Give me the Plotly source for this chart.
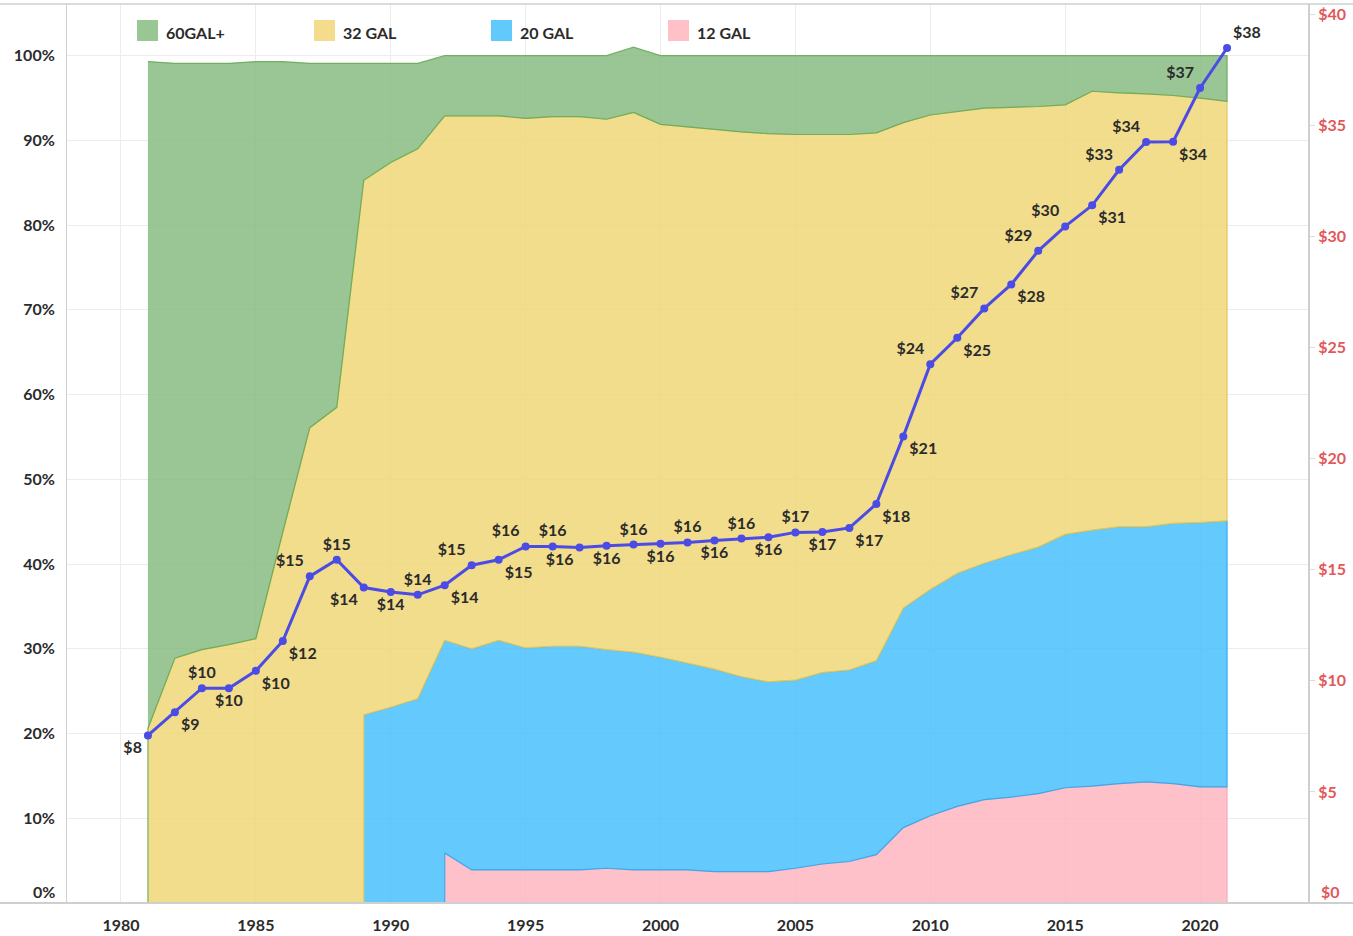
import plotly.graph_objects as go

# ---------------- data ----------------
years = list(range(1981, 2022))

# market share (%) by container size; None = not yet on the market
share_60 = [78.7, 70.2, 69.2, 68.6, 68.1, 55.5, 43.0, 40.6, 13.8, 11.7,
            10.1, 7.1, 7.1, 7.1, 7.4, 7.2, 7.2, 7.5, 7.7, 8.1,
            8.4, 8.7, 9.0, 9.2, 9.3, 9.3, 9.3, 9.1, 7.9, 7.0,
            6.6, 6.2, 6.1, 6.0, 5.8, 4.2, 4.4, 4.5, 4.7, 5.0, 5.4]
share_32 = [20.6, 28.9, 29.9, 30.5, 31.2, 43.8, 56.1, 58.5, 63.1, 64.3,
            64.9, 61.9, 62.9, 61.9, 62.5, 62.5, 62.5, 62.6, 63.7, 62.9,
            63.3, 63.7, 64.3, 64.7, 64.4, 63.5, 63.2, 62.3, 57.3, 56.0,
            54.5, 53.7, 52.8, 52.0, 50.7, 51.8, 51.2, 51.1, 50.5, 50.1, 49.5]
share_20 = [None] * 8 + [22.2, 23.1, 24.1, 25.1, 26.1, 27.1, 26.2, 26.4, 26.4, 25.8,
                         25.7, 25.1, 24.4, 23.9, 23.0, 22.4, 22.2, 22.6, 22.6, 22.9,
                         25.9, 26.7, 27.5, 27.9, 28.6, 29.1, 29.9, 30.2, 30.3, 30.1,
                         30.7, 31.2, 31.4]
share_12 = [None] * 11 + [5.9, 3.9, 3.9, 3.9, 3.9, 3.9, 4.1, 3.9, 3.9, 3.9,
                          3.7, 3.7, 3.7, 4.1, 4.6, 4.9, 5.7, 8.9, 10.3, 11.4,
                          12.2, 12.5, 12.9, 13.6, 13.8, 14.1, 14.3, 14.1, 13.7, 13.7]

# average price ($)
price = [7.54, 8.59, 9.67, 9.67, 10.45, 11.79, 14.7, 15.45, 14.2, 14.0,
         13.87, 14.3, 15.2, 15.45, 16.05, 16.05, 16.0, 16.08, 16.13, 16.17,
         16.23, 16.32, 16.4, 16.46, 16.68, 16.7, 16.88, 17.96, 21.0, 24.25,
         25.44, 26.76, 27.84, 29.35, 30.45, 31.4, 33.0, 34.25, 34.26, 36.68, 38.48]

x_ticks = list(range(1980, 2021, 5))
pct_ticks = list(range(10, 101, 10))
pct_labels = [f"{v}%" for v in pct_ticks]
usd_ticks = list(range(5, 41, 5))
usd_labels = [f"${v}" for v in usd_ticks]

series_names = ["12 GAL", "20 GAL", "32 GAL", "60GAL+"]
series_shares = [share_12, share_20, share_32, share_60]
fill_colors = ["rgba(255,182,191,0.85)", "rgba(66,190,252,0.82)",
               "rgba(240,215,121,0.85)", "rgba(130,186,124,0.82)"]
line_colors = ["rgba(250,170,182,0.9)", "rgba(50,165,240,0.9)",
               "rgba(225,200,90,0.9)", "rgba(105,170,90,0.9)"]
legend_colors = ["#ffc0c8", "#62c9fd", "#f3dd8d", "#99c794"]

label_pos = ["bottom left", "bottom right", "top center", "bottom center", "bottom right",
             "bottom right", "top left", "top center", "bottom left", "bottom center",
             "top center", "bottom right", "top left", "bottom right", "top left",
             "top center", "bottom left", "bottom center", "top center", "bottom center",
             "top center", "bottom center", "top center", "bottom center", "top center",
             "bottom center", "bottom right", "bottom right", "bottom right", "top left",
             "bottom right", "top left", "bottom right", "top left", "top left",
             "bottom right", "top left", "top left", "bottom right", "top left", "top right"]

TXT = "#2b2b2b"
RED = "#e25759"
FONT = "Lato"

# ---------------- figure ----------------
fig = go.Figure()
n = len(years)


def cum_top(k, i):
    return sum(s[i] for s in series_shares[:k + 1] if s[i] is not None)


prev = [(x, 0.0) for x in years]
for k, shares in enumerate(series_shares):
    s = next(i for i, v in enumerate(shares) if v is not None)
    xs = years[s]
    upper = [(years[i], cum_top(k, i)) for i in range(s, n)]
    lower = [p for p in prev if p[0] >= xs]
    poly = upper + lower[::-1]
    fig.add_trace(go.Scatter(
        x=[p[0] for p in poly], y=[p[1] for p in poly],
        mode="lines", fill="toself", fillcolor=fill_colors[k],
        line=dict(width=0),
        name=series_names[k], showlegend=False, hoverinfo="skip"))
    # outline: lower edge, right edge, upper edge (no left edge)
    outline = lower + upper[::-1]
    fig.add_trace(go.Scatter(
        x=[p[0] for p in outline], y=[p[1] for p in outline],
        mode="lines", line=dict(color=line_colors[k], width=1.2),
        showlegend=False, hoverinfo="skip"))
    prev = [p for p in prev if p[0] < xs] + [p for p in prev if p[0] == xs] + upper

fig.add_trace(go.Scatter(
    x=years, y=price, yaxis="y2", mode="lines+markers+text",
    line=dict(color="#4b4be6", width=3),
    marker=dict(color="#4b4be6", size=8),
    texttemplate="$%{y:.0f}", textposition=label_pos,
    textfont=dict(family=FONT, size=16, color=TXT, weight="bold"),
    cliponaxis=False, showlegend=False, name="Price"))

# ---------------- layout ----------------
PL, PR, PT, PB = 67, 1308, 4, 903


def px_x(p):
    return (p - PL) / (PR - PL)


def px_y(p):
    return (PB - p) / (PB - PT)


shapes = []
annotations = []
legend_x = [137, 314, 491, 668]
order = [3, 2, 1, 0]
for j, k in enumerate(order):
    x0 = legend_x[j]
    shapes.append(dict(type="rect", xref="paper", yref="paper",
                       x0=px_x(x0), x1=px_x(x0 + 21), y0=px_y(41), y1=px_y(20),
                       fillcolor=legend_colors[k], line=dict(width=0)))
    annotations.append(dict(xref="paper", yref="paper", x=px_x(x0 + 27), y=px_y(32),
                            xanchor="left", yanchor="middle", showarrow=False,
                            text=series_names[k],
                            font=dict(family=FONT, size=16, color=TXT, weight="bold")))

# frame lines across the full width (top and bottom)
for yy, w in [(0, 2), (1, 1.5)]:
    shapes.append(dict(type="line", xref="paper", yref="paper",
                       x0=px_x(0), x1=px_x(1353), y0=yy, y1=yy,
                       line=dict(color="#cfcfcf", width=w), layer="above"))

annotations.append(dict(xref="paper", yref="y", x=px_x(57), y=0, yshift=12,
                        xanchor="right", yanchor="middle", showarrow=False, text="0%",
                        font=dict(family=FONT, size=16, color=TXT, weight="bold")))
annotations.append(dict(xref="paper", yref="y2", x=px_x(1319), y=0, yshift=12,
                        xanchor="left", yanchor="middle", showarrow=False, text="$0",
                        font=dict(family=FONT, size=16, color=RED, weight="bold")))

fig.update_layout(
    width=1353, height=936,
    margin=dict(l=PL, r=1353 - PR, t=PT, b=936 - PB, autoexpand=False),
    paper_bgcolor="white", plot_bgcolor="white",
    showlegend=False,
    shapes=shapes, annotations=annotations,
    xaxis=dict(range=[1978, 2024], tickmode="array", tickvals=x_ticks,
               ticktext=[str(v) for v in x_ticks],
               showgrid=True, gridcolor="#ececec", gridwidth=1,
               zeroline=False, showline=False,
               ticks="outside", ticklen=8, tickcolor="rgba(0,0,0,0)",
               tickfont=dict(family=FONT, size=16, color=TXT, weight="bold")),
    yaxis=dict(range=[0, 106.1], tickmode="array", tickvals=pct_ticks, ticktext=pct_labels,
               showgrid=True, gridcolor="#ececec", gridwidth=1,
               zeroline=False, showline=True, linecolor="#cfcfcf", linewidth=1,
               ticks="outside", ticklen=8, tickcolor="rgba(0,0,0,0)",
               tickfont=dict(family=FONT, size=16, color=TXT, weight="bold")),
    yaxis2=dict(range=[0, 40.46], tickmode="array", tickvals=usd_ticks, ticktext=usd_labels,
                overlaying="y", side="right", showgrid=False, zeroline=False,
                showline=True, linecolor="#cfcfcf", linewidth=2,
                ticks="outside", ticklen=5, tickcolor="#dddddd",
                tickfont=dict(family=FONT, size=16, color=RED, weight="bold")),
)

fig.write_html("out.html", config={"displayModeBar": False},
               post_script="document.body.style.margin='0px';")
